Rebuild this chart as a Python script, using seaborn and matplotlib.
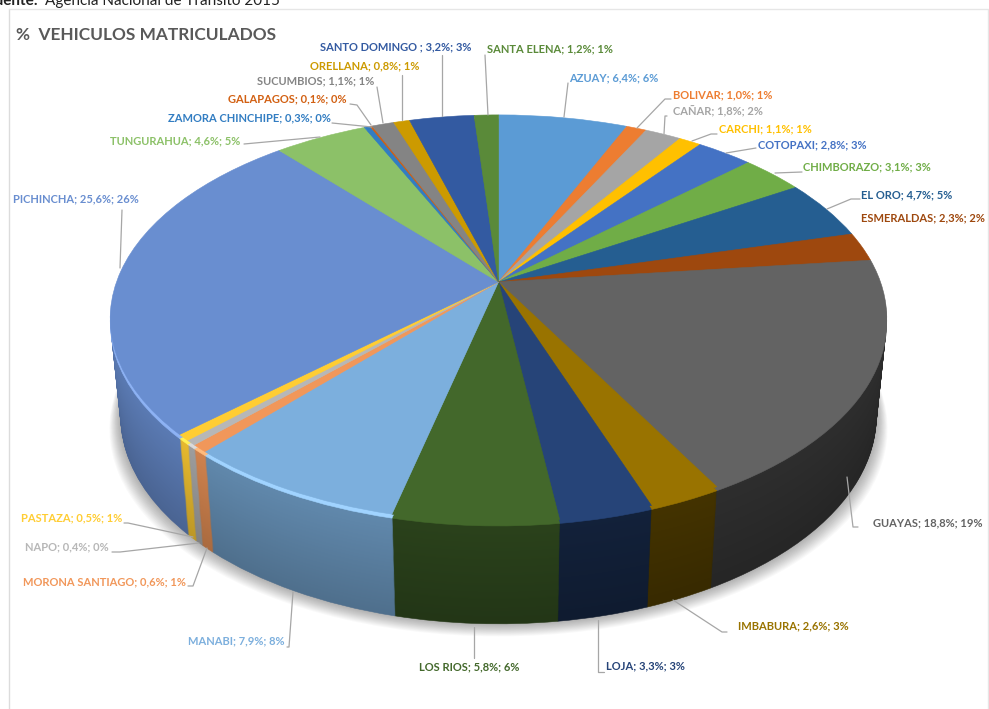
import numpy as np
import matplotlib
matplotlib.use('Agg')
import matplotlib.pyplot as plt
from matplotlib.colors import to_rgb
from matplotlib.transforms import Transform
import seaborn as sns

# Provinces in pie order, clockwise from 12 o'clock
provinces = ['AZUAY', 'BOLIVAR', 'CAÑAR', 'CARCHI', 'COTOPAXI', 'CHIMBORAZO', 'EL ORO', 'ESMERALDAS',
             'GUAYAS', 'IMBABURA', 'LOJA', 'LOS RIOS', 'MANABI', 'MORONA SANTIAGO', 'NAPO', 'PASTAZA',
             'PICHINCHA', 'TUNGURAHUA', 'ZAMORA CHINCHIPE', 'GALAPAGOS', 'SUCUMBIOS', 'ORELLANA',
             'SANTO DOMINGO ', 'SANTA ELENA']
shares = [6.4, 1.0, 1.8, 1.1, 2.8, 3.1, 4.7, 2.3,
          18.8, 2.6, 3.3, 5.8, 7.9, 0.6, 0.4, 0.5,
          25.6, 4.6, 0.3, 0.1, 1.1, 0.8, 3.2, 1.2]
rounded = [6, 1, 2, 1, 3, 3, 5, 2,
           19, 3, 3, 6, 8, 1, 0, 1,
           26, 5, 0, 0, 1, 1, 3, 1]

slice_colors = ['#5b9bd5', '#ed7d31', '#a5a5a5', '#ffc000', '#4472c4', '#70ad47', '#255e91', '#9e480e',
                '#636363', '#997300', '#264478', '#43682b', '#7cafdd', '#f1975a', '#b7b7b7', '#ffcd33',
                '#698ed0', '#8cc168', '#327dc2', '#d26012', '#848484', '#cc9a00', '#335aa1', '#5a8a39']
side_shades = [.6, .6, .6, .6, .6, .6, .6, .6,
               .44, .42, .46, .60, .74, .82, .82, .86,
               .82, .7, .7, .7, .7, .7, .7, .7]

# label layout in image pixels: left edge, vertical centre
label_pos = [(569, 78), (673, 95), (673, 112), (719, 129), (758, 145), (803, 167), (861, 195), (861, 218),
             (873, 523), (738, 626), (606, 666), (419, 667), (188, 641), (23, 582), (25, 547), (21, 518),
             (13, 199), (110, 141), (168, 118), (228, 99), (257, 81), (310, 66), (320, 47), (487, 49)]
leaders = [[(568, 83), (564, 117)], [(671, 99), (665, 99), (637, 128)], [(667, 116), (665, 116), (664, 134)],
           [(717, 134), (711, 134), (692, 141)], [(756, 148), (726, 153)], [(802, 172), (775, 173)],
           [(860, 199), (851, 199), (827, 209)], [],
           [(847, 477), (853, 527), (858, 527)], [(673, 600), (722, 632), (727, 632)],
           [(598, 620), (598, 672), (604, 672)], [(474, 627), (474, 658)],
           [(293, 592), (289, 647), (287, 647)], [(207, 548), (193, 586), (188, 586)],
           [(199, 543), (120, 552), (112, 552)], [(193, 537), (128, 523), (124, 523)],
           [(122, 210), (120, 268)], [(244, 144), (320, 137)], [(332, 123), (372, 127)],
           [(350, 104), (357, 105), (371, 125)], [(377, 87), (383, 123)], [(402, 75), (402, 120)],
           [(442, 55), (442, 116)], [(485, 55), (488, 115)]]


class Tilt(Transform):
    # projects the unit pie onto the picture plane, far edge smaller than the near edge
    input_dims = 2
    output_dims = 2
    is_separable = False

    def __init__(self, rx=382.0, ry=197.0, drop=0.0, k=0.179):
        super().__init__()
        self.rx, self.ry, self.drop, self.k = rx, ry, drop, k

    def transform_non_affine(self, values):
        values = np.asarray(values)
        w = 1 + self.k * values[:, 1]
        return np.column_stack([498.5 + self.rx * values[:, 0] / w,
                                282 + self.drop - self.ry * values[:, 1] / w])


def draw_pie(ax, vals, cols, tilt, lw=0.4, alpha=None):
    wedges, _ = ax.pie(vals, colors=cols, startangle=90, counterclock=False)
    for w in wedges:
        w.set_transform(tilt + ax.transData)
        w.set_edgecolor(w.get_facecolor())
        w.set_linewidth(lw)
        if alpha is not None:
            w.set_alpha(alpha)


sns.set_theme(style='white')
plt.rcParams['font.family'] = ['Lato', 'DejaVu Sans']

fig = plt.figure(figsize=(9.89, 7.09), dpi=100)
ax = fig.add_axes([0, 0, 1, 1])

# soft shadow under the near edge
for grow in np.linspace(18, 1, 14):
    draw_pie(ax, [1], ['#000000'], Tilt(372 + grow * .6, 201, 97 + grow * .7), lw=0, alpha=0.022)

# side wall: stack of pies going up from the lowest disc
base = np.array([to_rgb(c) for c in slice_colors])
shade = np.array(side_shades)[:, None]
depths = np.arange(97, 4, -1.0)
for d in depths:
    f = shade * (1.06 - 0.2 * d / 97)
    draw_pie(ax, shares, [tuple(c) for c in np.clip(base * f, 0, 1)],
             Tilt(382 * (1 - 0.027 * d / 97), 197 + 4 * d / 97, d))

# bright bevel on the rim of the left slices
rim_cols = np.clip(base + (shade > .7) * .14, 0, 1)
draw_pie(ax, shares, [tuple(c) for c in rim_cols], Tilt(drop=4.0))

# top face
draw_pie(ax, shares, slice_colors, Tilt())

ax.set_aspect('auto')
ax.set_xlim(0, 989)
ax.set_ylim(709, 0)
ax.axis('off')

# chart frame
ax.plot([9, 9], [709, 9], color='#dcdcdc', lw=1)
ax.plot([9, 988, 988], [9, 9, 709], color='#e6e6e6', lw=1)

for name, val, rnd, col, (x, y), pts in zip(provinces, shares, rounded, slice_colors, label_pos, leaders):
    txt = f"{name}; {val:.1f}%; {rnd}%".replace('.', ',')
    ax.text(x, y, txt, color=col, fontsize=8.0, fontweight='bold', va='center', ha='left')
    if pts:
        ax.plot([p[0] for p in pts], [p[1] for p in pts], color='#a6a6a6', lw=0.9)

ax.text(16, 35, '%  VEHICULOS MATRICULADOS', color='#595959', fontsize=12.4, fontweight='bold', va='center')
ax.text(38, 1, 'Fuente:', color='#222222', fontsize=11, fontweight='bold', va='center', ha='right')
ax.text(45, 1, 'Agencia Nacional de Tránsito 2015', color='#222222', fontsize=11, va='center')

fig.savefig('out.png', dpi=100)
